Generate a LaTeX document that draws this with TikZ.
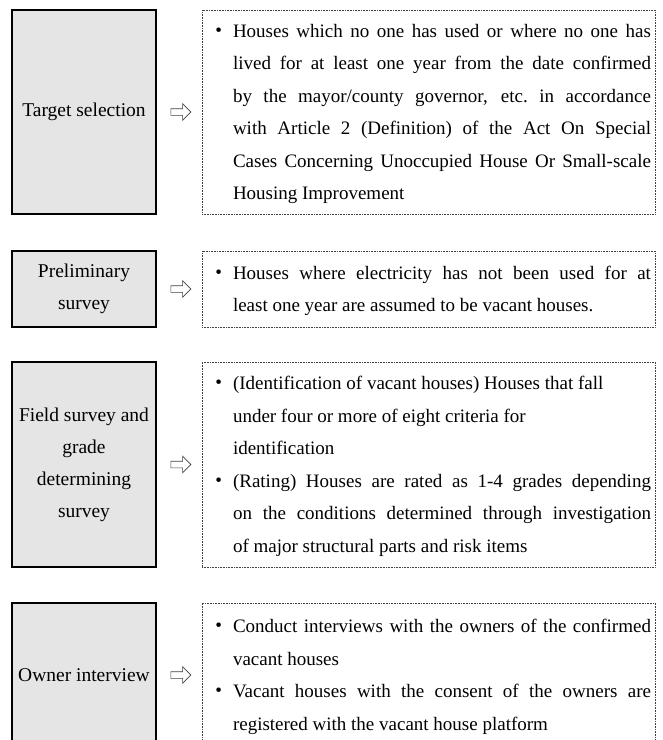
\documentclass[tikz,border=0pt]{standalone}
\usepackage{fontspec}
\setmainfont{Liberation Serif}
\usetikzlibrary{positioning, shapes.arrows, calc}

\newcommand{\bul}{\par\noindent\llap{\raisebox{1pt}{\fontsize{19}{19}\selectfont\textbullet}\hspace{11pt}}}
\newcommand{\notebox}[1]{\raisebox{-2pt}[\height][\depth]{\begin{minipage}{449pt}\leftskip=29pt \rightskip=2pt \parfillskip=0pt plus 1fil \hyphenpenalty=10000 #1\par\end{minipage}}}

\begin{document}
\begin{tikzpicture}[
  x=1pt, y=-1pt,
  stage/.style={draw, line width=1.4pt, fill=black!10, minimum width=144pt, align=center, inner sep=0pt, font=\fontsize{19.5}{32}\selectfont},
  note/.style={draw=black!75, densely dotted, line width=0.6pt, minimum width=453pt, inner xsep=2pt, inner ysep=0pt, font=\fontsize{19}{32.5}\selectfont},
  arr/.style={single arrow, draw=black!75, line width=0.6pt, minimum height=20pt, inner xsep=0pt, inner ysep=3pt, single arrow head extend=5pt}
]
\useasboundingbox (0,0) rectangle (663,740);
\clip (0,0) rectangle (663,740);

% Target selection
\node[stage, minimum height=204pt] (t1) at (84,112) {Target selection};
\node[note, minimum height=204pt] (d1) at (428.5,112) {\notebox{%
  \bul Houses which no one has used or where no one has\linebreak
  lived for at least one year from the date confirmed\linebreak
  by the mayor/county governor, etc.\ in accordance\linebreak
  with Article 2 (Definition) of the Act On Special\linebreak
  Cases Concerning Unoccupied House Or Small-scale\linebreak
  Housing Improvement}};
\node[arr] (a1) at ($(t1.east)!0.5!(d1.west)$) {};

% Preliminary survey
\node[stage, minimum height=76pt] (t2) at (84,289) {Preliminary\\survey};
\node[note, minimum height=76pt] (d2) at (428.5,289) {\notebox{%
  \bul Houses where electricity has not been used for at\linebreak
  least one year are assumed to be vacant houses.}};
\node[arr] (a2) at ($(t2.east)!0.5!(d2.west)$) {};

% Field survey
\node[stage, minimum height=205pt] (t3) at (84,464.5) {Field survey and\\grade\\determining\\survey};
\node[note, minimum height=205pt] (d3) at (428.5,464.5) {\notebox{%
  \bul (Identification of vacant houses) Houses that fall\newline
  under four or more of eight criteria for\newline
  identification
  \bul (Rating) Houses are rated as 1-4 grades depending\linebreak
  on the conditions determined through investigation\linebreak
  of major structural parts and risk items}};
\node[arr] (a3) at ($(t3.east)!0.5!(d3.west)$) {};

% Owner interview
\node[stage, minimum height=144pt] (t4) at (84,675) {Owner interview};
\node[note, minimum height=144pt] (d4) at (428.5,675) {\notebox{%
  \bul Conduct interviews with the owners of the confirmed\linebreak
  vacant houses
  \bul Vacant houses with the consent of the owners are\linebreak
  registered with the vacant house platform}};
\node[arr] (a4) at ($(t4.east)!0.5!(d4.west)$) {};
\end{tikzpicture}
\end{document}
